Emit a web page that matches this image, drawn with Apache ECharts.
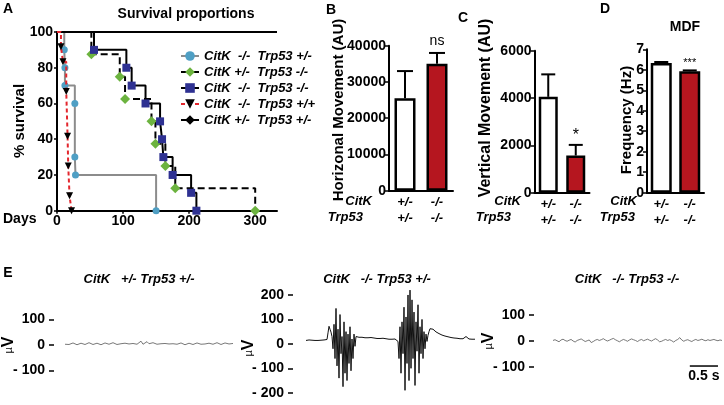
<!DOCTYPE html>
<html><head><meta charset="utf-8">
<script src="https://cdn.jsdelivr.net/npm/echarts@6/dist/echarts.min.js"></script>
<style>html,body{margin:0;padding:0;background:#fff}#c{width:724px;height:405px}</style>
</head><body><div id="c"></div>
<script>
// ---------- Panel A: survival curves ----------
const survivalNames = ['CitK  -/-  Trp53 +/-', 'CitK +/-  Trp53 -/-', 'CitK  -/-  Trp53 -/-', 'CitK  -/-  Trp53 +/+', 'CitK +/-  Trp53 +/-'];
const cyanDays  = [0, 11, 12, 12, 27, 27, 28, 150];
const cyanSurv  = [100, 90, 80, 70, 60, 30, 20, 0];
const greenDays = [0, 52, 95, 103, 143, 149, 164, 179, 300];
const greenSurv = [100, 87.5, 75, 62.5, 50, 37.5, 25, 12.5, 0];
const navyDays  = [0, 56, 105, 113, 134, 156, 159, 161, 175, 203, 211];
const navySurv  = [100, 90, 80, 70, 60, 50, 40, 30, 20, 10, 0];
const redDays   = [0, 6, 9, 14, 16, 17, 19, 22];
const redSurv   = [100, 91.7, 83.3, 66.7, 41.7, 25, 8.3, 0];
const ctrlDays  = [0, 333];
const ctrlSurv  = [100, 100];
const daysTicks = [0, 100, 200, 300];

// ---------- Panels B, C, D: bars ----------
const genoCitK  = ['+/-', '-/-'];
const genoTrp53 = ['+/-', '-/-'];
const horizMean = [25500, 35000];
const horizSem  = [7500, 3000];
const horizSig  = ['', 'ns'];
const vertMean  = [4050, 1570];
const vertSem   = [950, 450];
const vertSig   = ['', '*'];
const mdfMean   = [6.33, 5.93];
const mdfSem    = [0.05, 0.04];
const mdfSig    = ['', '***'];

// ---------- Panel E: EEG traces (µV) ----------
const eegTitles = ['CitK   +/- Trp53 +/-', 'CitK   -/- Trp53 +/-', 'CitK   -/- Trp53 -/-'];
const eeg1 = [3,6,2,5,8,4,1,5,7,3,2,6,9,5,2,4,7,3,1,5,8,5,3,6,9,4,2,6,5,2,7,11,4,1,6,9,3,6,15,3,8,13,5,4,9,6,3,7,5,2,6,9,4,2,5,8,3,6,8,4,1,5,7,3,2,6,8,4,3,6,4,1,7,5,3,6,9,4,2,5,8,3,4,9,6];
const eeg2 = [14,15,13,16,15,14,15,17,15,14,16,15,14,15,16,15,14,15,16,15,17,18,
  45,72,60,48,30,
  -20,80,-60,145,-90,60,-140,120,-40,30,-175,90,-120,50,-150,40,-80,70,-110,20,-60,40,-10,
  30,28,29,27,28,26,27,28,26,25,26,27,25,24,25,26,24,23,24,25,23,22,23,24,22,21,22,23,21,20,21,22,20,19,20,21,19,18,19,20,18,17,
  10,-60,70,-120,90,-40,150,-190,110,-80,200,-150,220,-100,180,-60,130,-170,90,-30,160,-120,70,-40,100,-60,50,-20,40,10,
  35,50,62,66,64,60,56,52,49,46,44,42,40,38,36,35,34,32,31,30,29,28,27,26,26,25,24,24,23,23,22,22,21,21,22,21,20,24,30,26,22,20,21,20,19,21,20,19];
const eeg3 = [2,5,1,-3,4,7,2,-1,3,6,0,-4,2,5,8,3,-2,1,4,-6,-2,3,6,2,5,9,4,0,3,7,10,5,1,-3,2,6,3,-1,4,8,5,2,-2,3,6,1,4,7,3,0,5,9,4,-3,-1,3,6,2,5,1,-4,2,6,13,4,-1,3,5,1,-2,3,6,2,4,7,3,1,5,2,4,6,3,1,4,2];
const eegTicksSmall = [-100, 0, 100];
const eegTicksBig   = [-200, -100, 0, 100, 200];
const scaleBarIdx = [68, 82];   // sample indices spanning 0.5 s
const scaleBarLevel = -97;
const scaleBarText = '0.5 s';

// ---------- helpers ----------
const FF = '"Liberation Sans", Arial, sans-serif';
const BOLD = {fontFamily: FF, fontWeight: 'bold', color: '#000', fontSize: 13};
function survData(days, surv, hideAll) {
  return days.map((d, i) => (i === 0 || hideAll) ? {value: [d, surv[i]], symbol: 'none'} : [d, surv[i]]);
}
function barAxisX(gi) {
  return {type: 'category', gridIndex: gi, data: genoCitK.map((c, i) => c + '\n' + genoTrp53[i]),
    axisLine: {lineStyle: {color: '#000', width: 2}},
    axisTick: {alignWithLabel: true, length: 4, lineStyle: {color: '#000', width: 1.5}},
    axisLabel: {interval: 0, margin: 4, lineHeight: 16, fontStyle: 'italic', ...BOLD}};
}
function barAxisY(gi, max, interval) {
  return {type: 'value', gridIndex: gi, min: 0, max: max, interval: interval,
    axisLine: {show: true, lineStyle: {color: '#000', width: 2}},
    axisTick: {show: true, length: 4, lineStyle: {color: '#000', width: 1.5}},
    axisLabel: {margin: 3, ...BOLD, fontSize: 14, formatter: v => String(v)}, splitLine: {show: false}};
}
function bars(gi, means, bw) {
  return {type: 'bar', xAxisIndex: gi, yAxisIndex: gi, barWidth: bw,
    data: means.map((m, i) => ({value: m, itemStyle: {color: i === 0 ? '#fff' : '#b5161f'}})),
    itemStyle: {borderColor: '#000', borderWidth: 2.5}, z: 2};
}
function errs(gi, means, sems, sig, capW, sigFont, sigGap) {
  return {type: 'custom', xAxisIndex: gi, yAxisIndex: gi, z: 3,
    data: means.map((m, i) => [i, m, sems[i]]),
    renderItem: function (params, api) {
      const i = api.value(0);
      const base = api.coord([i, api.value(1)]);
      const top = api.coord([i, api.value(1) + api.value(2)]);
      return {type: 'group', children: [
        {type: 'line', shape: {x1: base[0], y1: base[1], x2: top[0], y2: top[1]}, style: {stroke: '#000', lineWidth: 2}},
        {type: 'line', shape: {x1: top[0] - capW / 2, y1: top[1], x2: top[0] + capW / 2, y2: top[1]}, style: {stroke: '#000', lineWidth: 2}},
        {type: 'text', style: {text: sig[i], x: top[0], y: top[1] - sigGap, align: 'center', verticalAlign: 'bottom', font: sigFont, fill: '#000'}}
      ]};
    }};
}
function eegAxisY(gi, min, max, ticks, offset) {
  const fmt = v => v < 0 ? '- ' + (-v) : String(v);
  return {type: 'value', gridIndex: gi, min: min, max: max, offset: offset,
    axisLine: {show: false},
    axisTick: {show: true, length: 5, customValues: ticks, lineStyle: {color: '#000', width: 1.5}},
    axisLabel: {customValues: ticks, formatter: fmt, margin: 9, ...BOLD, fontSize: 14},
    splitLine: {show: false}};
}
function eegAxisX(gi, arr) {
  return {type: 'category', gridIndex: gi, show: false, boundaryGap: false, data: arr.map((_, i) => i)};
}
function eegSeries(gi, arr, color, w) {
  return {type: 'line', xAxisIndex: gi, yAxisIndex: gi, data: arr, symbol: 'none', clip: false,
    lineStyle: {color: color, width: w}};
}
function txt(x, y, text, font, rot, align) {
  return {type: 'text', x: x, y: y, rotation: rot || 0,
    style: {text: text, font: font, fill: '#000', align: align || 'center', verticalAlign: 'middle'}};
}
function microVolt(x, y) {
  return {type: 'text', x: x, y: y, rotation: Math.PI / 2,
    style: {text: '{m|µ}{v|V}', align: 'center', verticalAlign: 'middle',
      rich: {m: {font: '11px ' + FF, fill: '#000'}, v: {font: 'bold 16px ' + FF, fill: '#000'}}}};
}

const chart = echarts.init(document.getElementById('c'), null, {renderer: 'canvas'});
chart.setOption({
  animation: false,
  backgroundColor: '#fff',
  grid: [
    {left: 57, top: 32, width: 220, height: 178.7},
    {left: 389, top: 45.7, width: 64, height: 145},
    {left: 534.5, top: 50.7, width: 55, height: 142},
    {left: 647, top: 49.3, width: 57, height: 143.4},
    {left: 65, top: 294, width: 168, height: 102},
    {left: 306, top: 282.75, width: 169, height: 128.5},
    {left: 553, top: 289.4, width: 169, height: 103.2}
  ],
  legend: {
    left: 180, top: 49, orient: 'vertical', itemWidth: 18, itemHeight: 12, itemGap: 2, padding: 0,
    data: survivalNames,
    textStyle: {fontFamily: FF, fontWeight: 'bold', fontStyle: 'italic', fontSize: 13, color: '#000', lineHeight: 14}
  },
  xAxis: [
    {type: 'value', gridIndex: 0, min: 0, max: 333,
      axisLine: {lineStyle: {color: '#000', width: 2}},
      axisTick: {show: true, length: 3, customValues: daysTicks, lineStyle: {color: '#000', width: 1.5}},
      axisLabel: {customValues: daysTicks, margin: 3, ...BOLD, fontSize: 14}, splitLine: {show: false}},
    barAxisX(1), barAxisX(2), barAxisX(3),
    eegAxisX(4, eeg1), eegAxisX(5, eeg2), eegAxisX(6, eeg3)
  ],
  yAxis: [
    {type: 'value', gridIndex: 0, min: 0, max: 100, interval: 20,
      axisLine: {show: true, lineStyle: {color: '#000', width: 2}},
      axisTick: {show: true, length: 3, lineStyle: {color: '#000', width: 1.5}},
      axisLabel: {margin: 4, ...BOLD, fontSize: 14}, splitLine: {show: false}},
    barAxisY(1, 40000, 10000), barAxisY(2, 6000, 2000), barAxisY(3, 7, 1),
    eegAxisY(4, -200, 200, eegTicksSmall, 11),
    eegAxisY(5, -250, 250, eegTicksBig, 13),
    eegAxisY(6, -200, 200, eegTicksSmall, 19)
  ],
  series: [
    {name: survivalNames[4], type: 'line', step: 'end', data: survData(ctrlDays, ctrlSurv, true), symbol: 'diamond', symbolSize: 7,
      itemStyle: {color: '#000'}, lineStyle: {color: '#000', width: 2}, z: 1},
    {name: survivalNames[0], type: 'line', step: 'end', data: survData(cyanDays, cyanSurv), symbol: 'circle', symbolSize: 7,
      itemStyle: {color: '#4f9fc4'}, lineStyle: {color: '#8c8c8c', width: 2}, z: 3},
    {name: survivalNames[1], type: 'line', step: 'end', data: survData(greenDays, greenSurv), symbol: 'diamond', symbolSize: 10,
      itemStyle: {color: '#6cb33f'}, lineStyle: {color: '#000', width: 2, type: [7, 4]}, z: 3},
    {name: survivalNames[2], type: 'line', step: 'end', data: survData(navyDays, navySurv), symbol: 'rect', symbolSize: 8,
      itemStyle: {color: '#2e3192'}, lineStyle: {color: '#000', width: 2}, z: 3},
    {name: survivalNames[3], type: 'line', step: 'end', data: survData(redDays, redSurv), symbol: 'triangle', symbolRotate: 180, symbolSize: 7,
      itemStyle: {color: '#000'}, lineStyle: {color: '#e3262d', width: 2, type: [4, 3]}, z: 4},
    bars(1, horizMean, 21), errs(1, horizMean, horizSem, horizSig, 16, '14px ' + FF, 5),
    bars(2, vertMean, 19), errs(2, vertMean, vertSem, vertSig, 14, '16px ' + FF, 1),
    bars(3, mdfMean, 21), errs(3, mdfMean, mdfSem, mdfSig, 14, '11px ' + FF, 2),
    eegSeries(4, eeg1, '#555', 0.8),
    eegSeries(5, eeg2, '#111', 1),
    eegSeries(6, eeg3, '#555', 0.8),
    {type: 'custom', xAxisIndex: 6, yAxisIndex: 6, data: [[scaleBarIdx[0], scaleBarIdx[1], scaleBarLevel]],
      renderItem: function (params, api) {
        const a = api.coord([api.value(0), api.value(2)]);
        const b = api.coord([api.value(1), api.value(2)]);
        return {type: 'group', children: [
          {type: 'line', shape: {x1: a[0], y1: a[1], x2: b[0], y2: b[1]}, style: {stroke: '#000', lineWidth: 1.5}},
          {type: 'text', style: {text: scaleBarText, x: (a[0] + b[0]) / 2, y: a[1] + 3, align: 'center', verticalAlign: 'top', font: 'bold 14px ' + FF, fill: '#000'}}
        ]};
      }}
  ],
  graphic: [
    txt(8, 9, 'A', 'bold 14px ' + FF),
    txt(186, 14, 'Survival proportions', 'bold 14px ' + FF),
    txt(20, 121, '% survival', 'bold 15px ' + FF, Math.PI / 2),
    txt(3, 219, 'Days', 'bold 14px ' + FF, 0, 'left'),
    txt(331, 10, 'B', 'bold 14px ' + FF),
    txt(339, 110, 'Horizonal Movement (AU)', 'bold 15px ' + FF, Math.PI / 2),
    txt(372, 201, 'CitK', 'bold italic 13px ' + FF, 0, 'right'),
    txt(363, 217, 'Trp53', 'bold italic 13px ' + FF, 0, 'right'),
    txt(463, 18, 'C', 'bold 14px ' + FF),
    txt(486, 108, 'Vertical Movement (AU)', 'bold 16px ' + FF, Math.PI / 2),
    txt(521, 201, 'CitK', 'bold italic 13px ' + FF, 0, 'right'),
    txt(511, 217, 'Trp53', 'bold italic 13px ' + FF, 0, 'right'),
    txt(605, 9, 'D', 'bold 14px ' + FF),
    txt(685, 27, 'MDF', 'bold 14px ' + FF),
    txt(627, 120, 'Frequency (Hz)', 'bold 15px ' + FF, Math.PI / 2),
    txt(637, 201, 'CitK', 'bold italic 13px ' + FF, 0, 'right'),
    txt(635, 217, 'Trp53', 'bold italic 13px ' + FF, 0, 'right'),
    txt(8, 273, 'E', 'bold 14px ' + FF),
    txt(139, 279, eegTitles[0], 'bold italic 13px ' + FF),
    txt(377, 279, eegTitles[1], 'bold italic 13px ' + FF),
    txt(627, 279, eegTitles[2], 'bold italic 13px ' + FF),
    microVolt(9, 345),
    microVolt(249, 348),
    microVolt(489, 341)
  ]
});
</script></body></html>
